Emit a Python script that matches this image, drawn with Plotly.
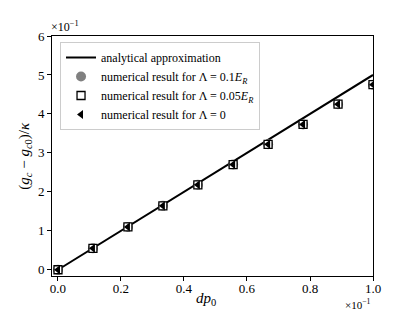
import plotly.graph_objects as go

# data (x in units of 1e-1, y in units of 1e-1)
dp0 = [0.0, 0.111, 0.222, 0.333, 0.444, 0.556, 0.667, 0.778, 0.889, 1.0]
analytic_x = [0.0, 1.0]
analytic_y = [0.0, 5.0]
num_L01 = [0.0, 0.55, 1.10, 1.64, 2.18, 2.70, 3.22, 3.73, 4.25, 4.75]
num_L005 = [0.0, 0.55, 1.10, 1.64, 2.18, 2.70, 3.22, 3.73, 4.25, 4.75]
num_L0 = [0.0, 0.55, 1.10, 1.64, 2.18, 2.70, 3.22, 3.73, 4.25, 4.75]
xticks = [0.0, 0.2, 0.4, 0.6, 0.8, 1.0]
yticks = [0, 1, 2, 3, 4, 5, 6]

FONT = "Liberation Serif"

fig = go.Figure()
fig.add_trace(go.Scatter(x=analytic_x, y=analytic_y, mode="lines",
                         line=dict(color="black", width=2),
                         name="analytical approximation"))
fig.add_trace(go.Scatter(x=dp0, y=num_L01, mode="markers",
                         marker=dict(symbol="circle", size=10, color="#808080",
                                     line=dict(width=0)),
                         name="numerical result for Λ = 0.1<i>E</i><sub><i>R</i></sub>"))
fig.add_trace(go.Scatter(x=dp0, y=num_L005, mode="markers",
                         marker=dict(symbol="square", size=8, color="white",
                                     line=dict(width=1.3, color="black")),
                         name="numerical result for Λ = 0.05<i>E</i><sub><i>R</i></sub>"))
fig.add_trace(go.Scatter(x=dp0, y=num_L0, mode="markers",
                         marker=dict(symbol="triangle-left", size=8, color="black",
                                     line=dict(width=0)),
                         name="numerical result for Λ = 0"))

axis_common = dict(showgrid=False, zeroline=False, showline=True, linecolor="black",
                   linewidth=1, mirror=True, ticks="outside", ticklen=4,
                   tickcolor="black", tickfont=dict(family=FONT, size=13, color="black"))

fig.update_layout(
    width=415, height=311,
    margin=dict(l=52, r=42, t=36, b=35),
    paper_bgcolor="white", plot_bgcolor="white",
    font=dict(family=FONT, size=13, color="black"),
    showlegend=True,
    legend=dict(x=0.025, y=0.975, xanchor="left", yanchor="top",
                bgcolor="rgba(255,255,255,0.8)", bordercolor="#cccccc", borderwidth=1,
                font=dict(family=FONT, size=12), tracegroupgap=0,
                itemwidth=30),
    xaxis=dict(range=[-0.019, 1.0], tickvals=xticks, ticklabelstandoff=-4,
               ticktext=[f"{v:.1f}" for v in xticks], **axis_common),
    yaxis=dict(range=[-0.16, 6.0], tickvals=yticks,
               ticktext=[str(v) for v in yticks], **axis_common),
)

fig.add_annotation(text="<i>dp</i><sub>0</sub>", xref="paper", yref="paper",
                   x=0.48, y=-0.095, xanchor="center", yanchor="middle",
                   showarrow=False, font=dict(family=FONT, size=15))
fig.add_annotation(text="(<i>g</i><sub><i>c</i></sub> − <i>g</i><sub><i>c</i>0</sub>)/<i>κ</i>",
                   xref="paper", yref="paper", x=-0.085, y=0.5, textangle=-90,
                   xanchor="center", yanchor="middle", showarrow=False,
                   font=dict(family=FONT, size=15))
fig.add_annotation(text="×10<sup>−1</sup>", xref="paper", yref="paper",
                   x=-0.01, y=1.0, xanchor="left", yanchor="bottom",
                   showarrow=False, font=dict(family=FONT, size=12))
fig.add_annotation(text="×10<sup>−1</sup>", xref="paper", yref="paper",
                   x=1.0, y=-0.118, xanchor="right", yanchor="middle",
                   showarrow=False, font=dict(family=FONT, size=11))

fig.write_html("out.html", config={"displayModeBar": False},
               post_script="document.body.style.margin='0';document.body.style.overflow='hidden';")
